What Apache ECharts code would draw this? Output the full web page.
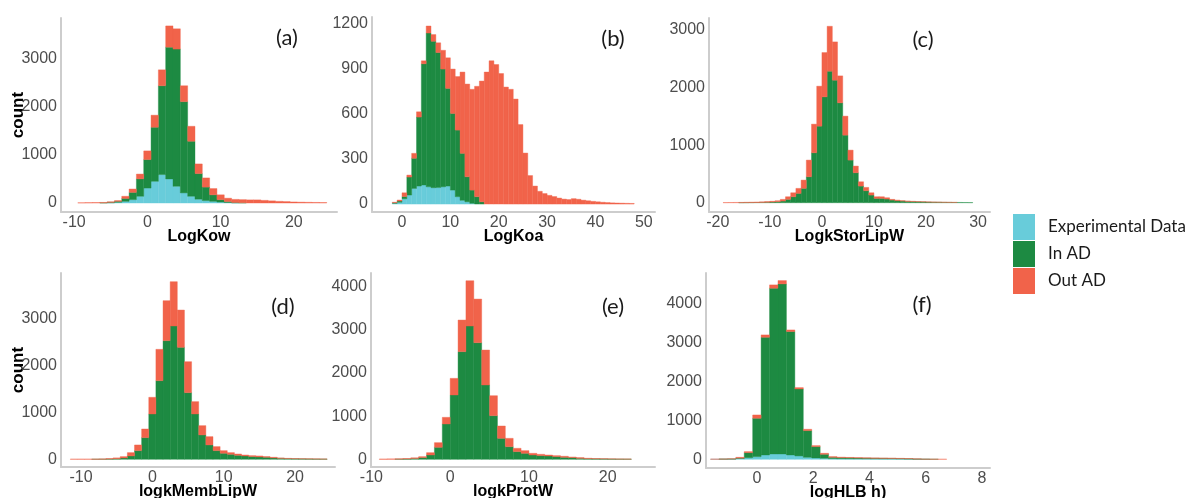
<!DOCTYPE html>
<html>
<head>
<meta charset="utf-8">
<script src="https://cdn.jsdelivr.net/npm/echarts@6/dist/echarts.min.js"></script>
<style>
html,body{margin:0;padding:0;background:#fff;}
#chart{width:1193px;height:498px;}
</style>
</head>
<body>
<div id="chart"></div>
<script>
// ---------- DATA (bin centres and counts per layer) ----------
// (a) LogKow
const aCenters = [-9,-8,-7,-6,-5,-4,-3,-2,-1,0,1,2,3,4,5,6,7,8,9,10,11,12,13,14,15,16,17,18,19,20,21,22,23,24];
const aExp   = [0,0,0,0,5,15,35,70,140,310,450,590,500,345,210,140,80,50,35,20,10,3,0,0,0,0,0,0,0,0,0,0,0,0];
const aIn    = [0,0,0,3,10,20,60,150,360,590,1120,1840,2730,2845,1890,1140,530,280,135,50,20,7,5,0,0,0,0,0,0,0,0,0,0,0];
const aOut   = [5,8,10,9,10,15,45,70,100,180,250,330,440,420,330,310,200,190,130,100,70,65,65,65,65,55,45,35,30,22,18,15,12,10];

// (b) LogKoa
const bCenters = [-1.5,-0.5,0.5,1.5,2.5,3.5,4.5,5.5,6.5,7.5,8.5,9.5,10.5,11.5,12.5,13.5,14.5,15.5,16.5,17.5,18.5,19.5,20.5,21.5,22.5,23.5,24.5,25.5,26.5,27.5,28.5,29.5,30.5,31.5,32.5,33.5,34.5,35.5,36.5,37.5,38.5,39.5,40.5,41.5,42.5,43.5,44.5,45.5,46.5,47.5];
const bExp   = [5,12,35,60,104,120,127,115,109,110,115,120,93,49,25,15,5,0,0,0,0,0,0,0,0,0,0,0,0,0,0,0,0,0,0,0,0,0,0,0,0,0,0,0,0,0,0,0,0,0];
const bIn    = [3,8,15,120,201,460,808,1025,976,900,785,651,511,444,313,167,88,49,15,0,0,0,0,0,0,0,0,0,0,0,0,0,0,0,0,0,0,0,0,0,0,0,0,0,0,0,0,0,0,0];
const bOut   = [4,7,25,13,33,35,20,47,45,65,125,204,296,357,542,618,672,736,805,880,955,930,870,780,765,700,530,340,190,120,85,70,58,50,40,33,30,36,32,26,22,18,15,12,10,8,7,6,5,4];

// (c) LogkStorLipW
const cCenters = [-18.5,-17.5,-16.5,-15.5,-14.5,-13.5,-12.5,-11.5,-10.5,-9.5,-8.5,-7.5,-6.5,-5.5,-4.5,-3.5,-2.5,-1.5,-0.5,0.5,1.5,2.5,3.5,4.5,5.5,6.5,7.5,8.5,9.5,10.5,11.5,12.5,13.5,14.5,15.5,16.5,17.5,18.5,19.5,20.5,21.5,22.5,23.5,24.5,25.5,26.5,27.5,28.5];
const cExp   = [0,0,0,0,0,0,0,0,0,0,0,0,0,0,0,0,0,0,0,0,0,0,0,0,0,0,0,0,0,0,0,0,0,0,0,0,0,0,0,0,0,0,0,0,0,0,0,0];
const cIn    = [0,0,0,1,2,3,4,6,8,12,18,29,58,104,162,249,450,867,1329,1838,2283,2127,1734,1173,740,520,289,208,133,75,75,64,46,35,29,23,20,17,15,12,10,9,7,6,5,5,4,3];
const cOut   = [3,4,5,5,6,7,8,9,12,13,17,29,46,69,87,144,290,497,694,769,780,665,468,330,173,116,75,58,40,29,29,23,12,11,6,6,5,3,2,2,2,1,1,1,1,0,0,0];

// (d) logkMembLipW
const dCenters = [-11,-10,-9,-8,-7,-6,-5,-4,-3,-2,-1,0,1,2,3,4,5,6,7,8,9,10,11,12,13,14,15,16,17,18,19,20,21,22,23,24];
const dExp   = [0,0,0,0,0,0,0,0,0,0,0,0,0,0,0,0,0,0,0,0,0,0,0,0,0,0,0,0,0,0,0,0,0,0,0,0];
const dIn    = [0,0,0,1,2,5,12,28,71,184,461,964,1673,2524,2836,2382,1418,964,518,305,184,128,106,85,71,57,50,43,28,21,15,12,10,8,6,5];
const dOut   = [4,5,5,5,6,10,18,29,71,121,184,355,667,851,943,794,659,263,198,177,86,56,36,28,21,21,21,14,15,7,5,3,2,2,2,1];

// (e) logkProtW
const eCenters = [-8.5,-7.5,-6.5,-5.5,-4.5,-3.5,-2.5,-1.5,-0.5,0.5,1.5,2.5,3.5,4.5,5.5,6.5,7.5,8.5,9.5,10.5,11.5,12.5,13.5,14.5,15.5,16.5,17.5,18.5,19.5,20.5,21.5,22.5];
const eExp   = [0,0,0,0,0,0,0,0,0,0,0,0,0,0,0,0,0,0,0,0,0,0,0,0,0,0,0,0,0,0,0,0];
const eIn    = [0,0,4,8,20,39,100,278,818,1490,2494,3088,2702,1722,1011,486,293,178,139,100,85,77,62,46,39,23,15,12,10,8,6,5];
const eOut   = [8,10,8,10,15,23,54,108,155,386,733,1050,1011,810,463,286,193,77,62,39,31,23,23,24,15,16,10,6,4,2,2,1];

// (f) logHLB h)
const fCenters = [-1.5,-1.2,-0.9,-0.6,-0.3,0,0.3,0.6,0.9,1.2,1.5,1.8,2.1,2.4,2.7,3.0,3.3,3.6,3.9,4.2,4.5,4.8,5.1,5.4,5.7,6.0,6.3,6.6];
const fExp   = [2,4,6,20,40,68,111,137,137,111,86,51,34,26,17,15,14,13,12,11,10,10,8,6,3,1,0,0];
const fIn    = [0,1,2,10,130,984,3018,4249,4360,3164,1718,684,291,102,34,27,24,20,18,16,15,12,10,8,3,1,1,0];
const fOut   = [3,3,4,21,27,85,60,86,86,42,34,35,26,26,17,13,10,9,8,8,7,8,7,6,6,4,4,3];

// tick labels
const aXTicks = [-10,0,10,20];            const aYTicks = [0,1000,2000,3000];
const bXTicks = [0,10,20,30,40,50];       const bYTicks = [0,300,600,900,1200];
const cXTicks = [-20,-10,0,10,20,30];     const cYTicks = [0,1000,2000,3000];
const dXTicks = [-10,0,10,20];            const dYTicks = [0,1000,2000,3000];
const eXTicks = [-10,0,10,20];            const eYTicks = [0,1000,2000,3000,4000];
const fXTicks = [0,2,4,6,8];              const fYTicks = [0,1000,2000,3000,4000];

const xNames = ['LogKow','LogKoa','LogkStorLipW','logkMembLipW','logkProtW','logHLB h)'];
const panelLabels = ['(a)','(b)','(c)','(d)','(e)','(f)'];
const seriesNames = ['Experimental Data','In AD','Out AD'];

// ---------- LAYOUT / STYLE ----------
const COLORS = ['#68CCDA','#1D8A42','#F1634A'];
const grids = [
  {left:61,  top:18,  width:276, height:194},
  {left:372, top:17,  width:283, height:195},
  {left:709, top:18,  width:281, height:194},
  {left:61,  top:273, width:274, height:194},
  {left:371, top:273, width:284, height:194},
  {left:706, top:273, width:284, height:195}
];
const xRanges = [[-11.8,25.9],[-6.2,52.3],[-21.7,32.3],[-12.8,25.6],[-10.05,26.0],[-1.81,8.29]];
const yRanges = [[-186,3834],[-53,1247],[-161,3207],[-164,3964],[-178,4317],[-223,4777]];
const labelPos = [[287,38],[613,39],[923,40],[283,307],[613,307],[922,305]];

const panels = [
  [aCenters,aExp,aIn,aOut,aXTicks,aYTicks],
  [bCenters,bExp,bIn,bOut,bXTicks,bYTicks],
  [cCenters,cExp,cIn,cOut,cXTicks,cYTicks],
  [dCenters,dExp,dIn,dOut,dXTicks,dYTicks],
  [eCenters,eExp,eIn,eOut,eXTicks,eYTicks],
  [fCenters,fExp,fIn,fOut,fXTicks,fYTicks]
];

function binWidth(centers){
  let w = Infinity;
  for (let i=1;i<centers.length;i++) w = Math.min(w, centers[i]-centers[i-1]);
  return w;
}

function renderItem(params, api){
  const x0 = api.value(0), x1 = api.value(1), y0 = api.value(2), y1 = api.value(3);
  if (y1 <= y0) return null;
  const p0 = api.coord([x0, y1]);
  const p1 = api.coord([x1, y0]);
  const col = api.visual('color');
  return {
    type:'rect',
    shape:{x:p0[0], y:p0[1], width:p1[0]-p0[0], height:p1[1]-p0[1]},
    style:{fill:col, stroke:col, lineWidth:0.4}
  };
}

const axisLineStyle = {color:'#CDCDCD', width:2};
const plain = v => String(v);
const tickFont = {color:'#4D4D4D', fontSize:16, fontFamily:'Liberation Sans, Arial, sans-serif', formatter: plain};

const option = {
  animation:false,
  backgroundColor:'#ffffff',
  grid: grids.map(g => Object.assign({containLabel:false, outerBoundsMode:'none'}, g)),
  xAxis: [], yAxis: [], series: [],
  legend: {
    data: seriesNames,
    orient:'vertical',
    left:1008, top:209,
    icon:'rect',
    itemWidth:22, itemHeight:26, itemGap:1,
    textStyle:{fontSize:17, fontFamily:'Lato, sans-serif', color:'#1a1a1a', padding:[0,0,0,8]},
    selectedMode:false
  },
  graphic: []
};

panels.forEach((p, i) => {
  const [centers, exp, inAD, outAD, xt, yt] = p;
  option.xAxis.push({
    type:'value', gridIndex:i, min:xRanges[i][0], max:xRanges[i][1],
    axisLine:{show:true, onZero:false, lineStyle:axisLineStyle},
    axisTick:{show:false},
    splitLine:{show:false},
    axisLabel:Object.assign({customValues:xt, margin:3}, tickFont),
    name:xNames[i], nameLocation:'middle', nameGap:17, nameMoveOverlap:false,
    nameTextStyle:{fontWeight:'bold', fontSize:16, color:'#000', fontFamily:'Liberation Sans, Arial, sans-serif'}
  });
  const ya = {
    type:'value', gridIndex:i, min:yRanges[i][0], max:yRanges[i][1],
    axisLine:{show:true, onZero:false, lineStyle:axisLineStyle},
    axisTick:{show:false},
    splitLine:{show:false},
    axisLabel:Object.assign({customValues:yt, margin:4}, tickFont)
  };
  if (i === 0 || i === 3) {
    Object.assign(ya, {name:'count', nameLocation:'middle', nameGap:34, nameRotate:90, nameMoveOverlap:false,
      nameTextStyle:{fontWeight:'bold', fontSize:17, color:'#000', fontFamily:'Liberation Sans, Arial, sans-serif'}});
  }
  option.yAxis.push(ya);

  const w = binWidth(centers);
  const layers = [exp, inAD, outAD];
  const base = centers.map(() => 0);
  layers.forEach((vals, li) => {
    const data = centers.map((c, k) => {
      const b = base[k];
      const t = b + vals[k];
      base[k] = t;
      return [c - w/2, c + w/2, b, t];
    });
    option.series.push({
      type:'custom', name:seriesNames[li], xAxisIndex:i, yAxisIndex:i,
      renderItem: renderItem, clip:true,
      itemStyle:{color:COLORS[li]},
      encode:{x:[0,1], y:[2,3]},
      data: data
    });
  });

  option.graphic.push({
    type:'text', x:labelPos[i][0], y:labelPos[i][1],
    style:{text:panelLabels[i], fill:'#1a1a1a', font:'22px Lato, sans-serif', align:'center', verticalAlign:'middle'}
  });
});

const chart = echarts.init(document.getElementById('chart'), null, {renderer:'canvas'});
chart.setOption(option);
</script>
</body>
</html>
